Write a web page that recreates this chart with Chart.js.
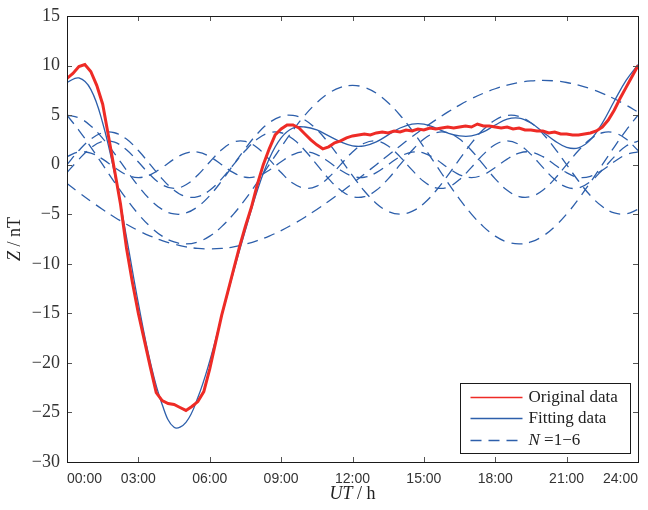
<!DOCTYPE html>
<html>
<head>
<meta charset="utf-8">
<script src="https://cdn.jsdelivr.net/npm/chart.js@4.4.1/dist/chart.umd.min.js"></script>
<style>
  html, body { margin: 0; padding: 0; background: #fff; }
</style>
</head>
<body>
<canvas id="zChart" width="648" height="510"></canvas>
<script>
// sampling grid of the fitted curves (hours UT)
const halfHours = [0,0.5,1,1.5,2,2.5,3,3.5,4,4.5,5,5.5,6,6.5,7,7.5,8,8.5,9,9.5,10,10.5,11,11.5,12,
	12.5,13,13.5,14,14.5,15,15.5,16,16.5,17,17.5,18,18.5,19,19.5,20,20.5,21,21.5,22,22.5,23,23.5,24];

// sampling grid of the measured data
const quarterHours = [0,0.25,0.5,0.75,1,1.25,1.5,1.75,2,2.25,2.5,2.75,3,3.25,3.5,3.75,4,4.25,4.5,4.75,
	5,5.25,5.5,5.75,6,6.25,6.5,6.75,7,7.25,7.5,7.75,8,8.25,8.5,8.75,9,9.25,9.5,9.75,
	10,10.25,10.5,10.75,11,11.25,11.5,11.75,12,12.25,12.5,12.75,13,13.25,13.5,13.75,14,14.25,14.5,14.75,
	15,15.25,15.5,15.75,16,16.25,16.5,16.75,17,17.25,17.5,17.75,18,18.25,18.5,18.75,19,19.25,19.5,19.75,
	20,20.25,20.5,20.75,21,21.25,21.5,21.75,22,22.25,22.5,22.75,23,23.25,23.5,23.75,24];

const originalZ = [8.7,9.2,9.9,10.1,9.4,8.0,6.1,2.8,-0.6,-4.0,-8.4,-11.9,-15.0,-17.7,-20.4,-23.0,-23.8,-24.1,-24.2,-24.5,
	-24.8,-24.4,-23.9,-22.9,-20.6,-17.9,-15.2,-12.9,-10.6,-8.3,-6.2,-4.3,-2.0,0.0,1.6,3.0,3.6,4.0,4.0,3.7,
	3.1,2.5,2.0,1.6,1.8,2.2,2.4,2.7,2.9,3.0,3.1,3.0,3.2,3.3,3.2,3.4,3.3,3.5,3.4,3.6,
	3.5,3.7,3.6,3.7,3.8,3.7,3.8,3.9,3.8,4.1,3.9,3.9,3.8,3.7,3.8,3.6,3.7,3.5,3.5,3.4,
	3.4,3.2,3.3,3.1,3.1,3.0,3.0,3.1,3.2,3.4,3.8,4.5,5.5,6.7,7.8,8.9,10.0];

const fittingZ = [8.3,8.75,7.6,4.2,-0.9,-7.3,-14.0,-19.9,-24.2,-26.5,-26.0,-23.5,-19.8,-15.3,-10.8,-6.6,-2.6,0.6,2.7,3.7,
	3.8,3.5,2.9,2.3,1.9,1.9,2.3,3.0,3.7,4.1,4.1,3.7,3.2,2.9,2.9,3.3,4.0,4.6,4.7,4.2,
	3.3,2.4,1.75,1.7,2.5,4.2,6.4,8.5,10.1];

// harmonic components N = 1..6
const n1 = [-1.89,-2.81,-3.69,-4.52,-5.30,-6.01,-6.65,-7.20,-7.66,-8.02,-8.29,-8.45,-8.50,-8.45,-8.29,-8.02,-7.66,-7.20,-6.65,-6.01,
	-5.30,-4.52,-3.69,-2.81,-1.89,-0.95,0,0.95,1.89,2.81,3.69,4.52,5.30,6.01,6.65,7.20,7.66,8.02,8.29,8.45,
	8.50,8.45,8.29,8.02,7.66,7.20,6.65,6.01,5.30];
const n2 = [4.99,3.47,1.78,0,-1.78,-3.47,-4.99,-6.25,-7.21,-7.80,-8.00,-7.80,-7.21,-6.25,-4.99,-3.47,-1.78,0,1.78,3.47,
	4.99,6.25,7.21,7.80,8.00,7.80,7.21,6.25,4.99,3.47,1.78,0,-1.78,-3.47,-4.99,-6.25,-7.21,-7.80,-8.00,-7.80,
	-7.21,-6.25,-4.99,-3.47,-1.78,0,1.78,3.47,4.99];
const n3 = [5.00,4.72,3.91,2.66,1.11,-0.56,-2.17,-3.54,-4.51,-4.97,-4.87,-4.23,-3.12,-1.65,0,1.65,3.12,4.23,4.87,4.97,
	4.51,3.54,2.17,0.56,-1.11,-2.66,-3.91,-4.72,-5.00,-4.72,-3.91,-2.66,-1.11,0.56,2.17,3.54,4.51,4.97,4.87,4.23,
	3.12,1.65,0,-1.65,-3.12,-4.23,-4.87,-4.97,-4.51];
const n4 = [0,1.43,2.58,3.22,3.22,2.58,1.43,0,-1.43,-2.58,-3.22,-3.22,-2.58,-1.43,0,1.43,2.58,3.22,3.22,2.58,
	1.43,0,-1.43,-2.58,-3.22,-3.22,-2.58,-1.43,0,1.43,2.58,3.22,3.22,2.58,1.43,0,-1.43,-2.58,-3.22,-3.22,
	-2.58,-1.43,0,1.43,2.58,3.22,3.22,2.58,1.43];
const n5 = [-0.79,0.53,1.70,2.34,2.27,1.50,0.27,-1.04,-2.03,-2.40,-2.03,-1.04,0.27,1.50,2.27,2.34,1.70,0.53,-0.79,-1.88,
	-2.38,-2.16,-1.28,0,1.28,2.16,2.38,1.88,0.79,-0.53,-1.70,-2.34,-2.27,-1.50,-0.27,1.04,2.03,2.40,2.03,1.04,
	-0.27,-1.50,-2.27,-2.34,-1.70,-0.53,0.79,1.88,2.38];
const n6 = [0.81,1.27,1.17,0.56,-0.29,-1.02,-1.30,-1.02,-0.29,0.56,1.17,1.27,0.81,0,-0.81,-1.27,-1.17,-0.56,0.29,1.02,
	1.30,1.02,0.29,-0.56,-1.17,-1.27,-0.81,0,0.81,1.27,1.17,0.56,-0.29,-1.02,-1.30,-1.02,-0.29,0.56,1.17,1.27,
	0.81,0,-0.81,-1.27,-1.17,-0.56,0.29,1.02,1.30];
const harmonics = [n1, n2, n3, n4, n5, n6];

const xTickLabels = ['00:00','03:00','06:00','09:00','12:00','15:00','18:00','21:00','24:00'];

const RED = '#ee2b26';
const BLUE = '#2d5fab';
const SERIF = '"Liberation Serif", "Times New Roman", serif';
const SANS = '"Liberation Sans", Arial, sans-serif';

function pts(xs, ys) {
	return ys.map((y, i) => ({ x: xs[i], y: y }));
}

var datasets = [{
	label: 'Original data',
	data: pts(quarterHours, originalZ),
	borderColor: RED,
	borderWidth: 3,
	pointRadius: 0,
	tension: 0
}, {
	label: 'Fitting data',
	data: pts(halfHours, fittingZ),
	borderColor: BLUE,
	borderWidth: 1.3,
	pointRadius: 0,
	tension: 0.4
}];
harmonics.forEach((h, i) => {
	datasets.push({
		label: 'N=' + (i + 1),
		data: pts(halfHours, h),
		borderColor: BLUE,
		borderWidth: 1.3,
		borderDash: [11, 7],
		pointRadius: 0,
		tension: 0.4
	});
});

// box, inward ticks, legend and the axis titles (MATLAB look)
const decoration = {
	id: 'decoration',
	afterDraw(chart) {
		const { ctx, chartArea: a, scales: { x, y } } = chart;
		ctx.save();
		ctx.lineWidth = 1;
		ctx.strokeStyle = '#555';
		ctx.beginPath();
		x.ticks.forEach(t => {
			if (t.value <= 0 || t.value >= 24) return;
			const px = Math.round(x.getPixelForValue(t.value)) + 0.5;
			ctx.moveTo(px, a.bottom); ctx.lineTo(px, a.bottom - 5);
			ctx.moveTo(px, a.top); ctx.lineTo(px, a.top + 5);
		});
		y.ticks.forEach(t => {
			if (t.value <= -30 || t.value >= 15) return;
			const py = Math.round(y.getPixelForValue(t.value)) + 0.5;
			ctx.moveTo(a.left, py); ctx.lineTo(a.left + 5, py);
			ctx.moveTo(a.right, py); ctx.lineTo(a.right - 5, py);
		});
		ctx.stroke();

		ctx.strokeStyle = '#1a1a1a';
		ctx.strokeRect(Math.round(a.left) + 0.5, Math.round(a.top) + 0.5,
			Math.round(a.right - a.left), Math.round(a.bottom - a.top));

		// legend
		const lw = 170, lh = 70;
		const lx = Math.round(a.right - 8 - lw) + 0.5, ly = Math.round(a.bottom - 9 - lh) + 0.5;
		ctx.fillStyle = '#fff';
		ctx.fillRect(lx, ly, lw, lh);
		ctx.strokeStyle = '#1a1a1a';
		ctx.strokeRect(lx, ly, lw, lh);
		const rows = [ly + 14, ly + 35, ly + 57];
		const items = [datasets[0], datasets[1], datasets[2]];
		items.forEach((d, i) => {
			ctx.beginPath();
			ctx.strokeStyle = d.borderColor;
			ctx.lineWidth = i === 0 ? 1.5 : 1.3;
			ctx.setLineDash(d.borderDash || []);
			ctx.moveTo(lx + 10, rows[i]);
			ctx.lineTo(lx + 62, rows[i]);
			ctx.stroke();
		});
		ctx.setLineDash([]);
		ctx.fillStyle = '#222';
		ctx.textBaseline = 'middle';
		ctx.textAlign = 'left';
		ctx.font = '17px ' + SERIF;
		ctx.fillText('Original data', lx + 68, rows[0]);
		ctx.fillText('Fitting data', lx + 68, rows[1]);
		ctx.font = 'italic 17px ' + SERIF;
		ctx.fillText('N', lx + 68, rows[2]);
		let nw = ctx.measureText('N').width;
		ctx.font = '17px ' + SERIF;
		ctx.fillText(' =1\u22126', lx + 68 + nw, rows[2]);

		// axis titles with italic symbols
		const drawTitle = (sym, rest, cx, cy) => {
			ctx.font = 'italic 18px ' + SERIF;
			const w1 = ctx.measureText(sym).width;
			ctx.font = '18px ' + SERIF;
			const w2 = ctx.measureText(rest).width;
			const start = cx - (w1 + w2) / 2;
			ctx.textAlign = 'left';
			ctx.font = 'italic 18px ' + SERIF;
			ctx.fillText(sym, start, cy);
			ctx.font = '18px ' + SERIF;
			ctx.fillText(rest, start + w1, cy);
		};
		ctx.fillStyle = '#222';
		drawTitle('UT', ' / h', (a.left + a.right) / 2, 494);
		ctx.save();
		ctx.translate(15, (a.top + a.bottom) / 2);
		ctx.rotate(-Math.PI / 2);
		drawTitle('Z', ' / nT', 0, 0);
		ctx.restore();
		ctx.restore();
	}
};

new Chart(document.getElementById('zChart'), {
	type: 'line',
	data: { datasets: datasets },
	options: {
		responsive: false,
		devicePixelRatio: 1,
		animation: false,
		layout: { padding: { left: 0, right: 8, top: 10, bottom: 0 } },
		plugins: {
			legend: { display: false },
			tooltip: { enabled: false }
		},
		scales: {
			x: {
				type: 'linear',
				min: 0,
				max: 24,
				grid: { display: false, drawTicks: false },
				border: { display: false },
				ticks: {
					stepSize: 3,
					autoSkip: false,
					maxRotation: 0,
					align: 'inner',
					padding: 10,
					color: '#333',
					font: { family: SANS, size: 14, lineHeight: 1 },
					callback: v => xTickLabels[v / 3]
				},
				afterFit: s => { s.height = 48; }
			},
			y: {
				min: -30,
				max: 15,
				grid: { display: false, drawTicks: false },
				border: { display: false },
				ticks: {
					stepSize: 5,
					padding: 7,
					color: '#333',
					font: { family: SERIF, size: 18, lineHeight: 1 },
					callback: v => String(v).replace('-', '\u2212')
				},
				afterFit: s => { s.width = 67; }
			}
		}
	},
	plugins: [decoration]
});
</script>
</body>
</html>
